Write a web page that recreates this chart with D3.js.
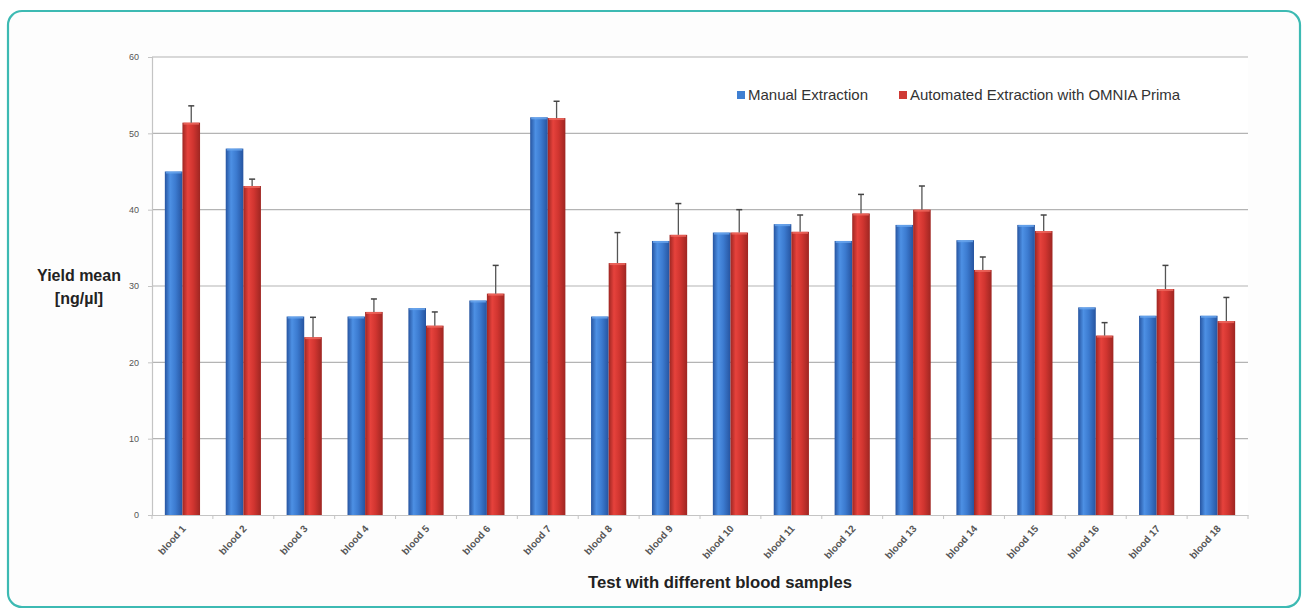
<!DOCTYPE html>
<html>
<head>
<meta charset="utf-8">
<script src="https://cdn.jsdelivr.net/npm/d3@7"></script>
<style>
  html, body { margin: 0; padding: 0; background: #ffffff; }
  svg { display: block; }
</style>
</head>
<body>
<svg id="chart" width="1303" height="610"></svg>
<script>
// ---- data ----
const categories = ["blood 1","blood 2","blood 3","blood 4","blood 5","blood 6","blood 7","blood 8","blood 9",
  "blood 10","blood 11","blood 12","blood 13","blood 14","blood 15","blood 16","blood 17","blood 18"];
const seriesNames = ["Manual Extraction", "Automated Extraction with OMNIA Prima"];
const manual    = [45.0, 48.0, 26.0, 26.0, 27.1, 28.1, 52.1, 26.0, 35.9, 37.0, 38.1, 35.9, 38.0, 36.0, 38.0, 27.2, 26.1, 26.1];
const automated = [51.4, 43.1, 23.3, 26.6, 24.8, 29.0, 52.0, 33.0, 36.7, 37.0, 37.1, 39.5, 40.0, 32.1, 37.2, 23.5, 29.6, 25.4];
const autoError = [2.2, 0.9, 2.6, 1.7, 1.8, 3.7, 2.2, 4.0, 4.1, 3.0, 2.2, 2.5, 3.1, 1.7, 2.1, 1.7, 3.1, 3.1];
const yTicks = [0, 10, 20, 30, 40, 50, 60];

// ---- layout ----
const svg = d3.select("#chart");
const W = 1303, H = 610;
const plot = { left: 152, right: 1248, top: 57, bottom: 515 };
const FONT = "Liberation Sans, Arial, sans-serif";

// frame
svg.append("rect").attr("x", 0).attr("y", 0).attr("width", W).attr("height", H).attr("fill", "#ffffff");
svg.append("rect").attr("x", 8).attr("y", 11).attr("width", 1292).attr("height", 596)
  .attr("rx", 14).attr("ry", 14).attr("fill", "#fdfdfd").attr("stroke", "#3dbab3").attr("stroke-width", 2.2);

// gradients
const defs = svg.append("defs");
function grad(id, dark, light, mid) {
  const g = defs.append("linearGradient").attr("id", id).attr("x1", "0%").attr("x2", "100%").attr("y1", "0%").attr("y2", "0%");
  g.append("stop").attr("offset", "0%").attr("stop-color", dark);
  g.append("stop").attr("offset", "30%").attr("stop-color", light);
  g.append("stop").attr("offset", "60%").attr("stop-color", mid);
  g.append("stop").attr("offset", "100%").attr("stop-color", dark);
}
grad("gBlue", "#2654a0", "#4d90e4", "#3c7bd0");
grad("gRed", "#9e2622", "#e6423c", "#d13530");

const x0 = d3.scaleBand().domain(categories).range([plot.left, plot.right]).paddingInner(0).paddingOuter(0);
const barW = 17.6;
const x1 = d3.scaleBand().domain(seriesNames).range([0, barW * 2]);
const y = d3.scaleLinear().domain([0, 60]).range([plot.bottom, plot.top]);

// plot background
svg.append("rect").attr("x", plot.left).attr("y", plot.top).attr("width", plot.right - plot.left)
  .attr("height", plot.bottom - plot.top).attr("fill", "#ffffff");

// gridlines
svg.append("g").selectAll("line").data(yTicks.filter(d => d > 0)).join("line")
  .attr("x1", plot.left).attr("x2", plot.right)
  .attr("y1", d => y(d)).attr("y2", d => y(d))
  .attr("stroke", "#b4b4b4").attr("stroke-width", 1.2);

// y axis
const yAxis = d3.axisLeft(y).tickValues(yTicks).tickSize(4).tickPadding(9);
const gy = svg.append("g").attr("transform", `translate(${plot.left},0)`).call(yAxis);
gy.select(".domain").attr("stroke", "#c4c4c4").attr("stroke-width", 1.2);
gy.selectAll(".tick line").attr("stroke", "#c4c4c4");
gy.selectAll("text").attr("font-family", FONT).attr("font-size", 9).attr("fill", "#555");

// x axis
const xAxis = d3.axisBottom(x0).tickSize(0).tickPadding(0);
const gx = svg.append("g").attr("transform", `translate(0,${plot.bottom})`).call(xAxis);
gx.select(".domain").attr("stroke", "#c4c4c4").attr("stroke-width", 1.2);
gx.selectAll(".bnd").data(d3.range(categories.length + 1)).join("line")
  .attr("x1", i => plot.left + i * x0.step()).attr("x2", i => plot.left + i * x0.step())
  .attr("y1", 0).attr("y2", 4).attr("stroke", "#c4c4c4");
gx.selectAll(".tick text")
  .attr("font-family", FONT).attr("font-size", 10).attr("font-weight", "bold")
  .attr("fill", "#555").attr("text-anchor", "end").attr("dy", 0)
  .attr("transform", "translate(4,14) rotate(-48)");

// bars
const groups = svg.append("g").selectAll("g").data(categories).join("g")
  .attr("transform", d => `translate(${x0(d) + x0.bandwidth() / 2 - barW},0)`);

const rows = categories.map((c, i) => [
  { s: seriesNames[0], v: manual[i], fill: "url(#gBlue)", cap: "#6aa6ee" },
  { s: seriesNames[1], v: automated[i], fill: "url(#gRed)", cap: "#ee6a60", e: autoError[i] }
]);
groups.each(function(d, i) {
  const g = d3.select(this);
  g.selectAll("rect.bar").data(rows[i]).join("rect").attr("class", "bar")
    .attr("x", r => x1(r.s)).attr("width", x1.bandwidth())
    .attr("y", r => y(r.v)).attr("height", r => y(0) - y(r.v))
    .attr("fill", r => r.fill);
  g.selectAll("rect.cap").data(rows[i]).join("rect").attr("class", "cap")
    .attr("x", r => x1(r.s) + 1).attr("width", x1.bandwidth() - 2)
    .attr("y", r => y(r.v)).attr("height", 2)
    .attr("fill", r => r.cap).attr("opacity", 0.8);
  const r = rows[i][1];
  const cx = x1(r.s) + x1.bandwidth() / 2;
  g.append("line").attr("x1", cx).attr("x2", cx).attr("y1", y(r.v)).attr("y2", y(r.v + r.e))
    .attr("stroke", "#555").attr("stroke-width", 1.3);
  g.append("line").attr("x1", cx - 3).attr("x2", cx + 3).attr("y1", y(r.v + r.e)).attr("y2", y(r.v + r.e))
    .attr("stroke", "#444").attr("stroke-width", 1.5);
});

// legend
const legend = svg.append("g").attr("font-family", FONT).attr("font-size", 15).attr("fill", "#333");
const legItems = [
  { name: seriesNames[0], x: 737, color: "#3f7fd2" },
  { name: seriesNames[1], x: 899, color: "#cf3a35" }
];
legItems.forEach(it => {
  legend.append("rect").attr("x", it.x).attr("y", 91).attr("width", 8).attr("height", 8).attr("fill", it.color);
  legend.append("text").attr("x", it.x + 11).attr("y", 100).text(it.name).attr("fill", "#333");
});

// titles
const yt = svg.append("text").attr("font-family", FONT).attr("font-size", 16)
  .attr("font-weight", "bold").attr("fill", "#222").attr("text-anchor", "middle");
yt.append("tspan").attr("x", 79).attr("y", 281).text("Yield mean");
yt.append("tspan").attr("x", 79).attr("y", 304).text("[ng/µl]");

svg.append("text").attr("x", 720).attr("y", 588).attr("text-anchor", "middle")
  .attr("font-family", FONT).attr("font-size", 16.7).attr("font-weight", "bold")
  .attr("fill", "#222").text("Test with different blood samples");
</script>
</body>
</html>
